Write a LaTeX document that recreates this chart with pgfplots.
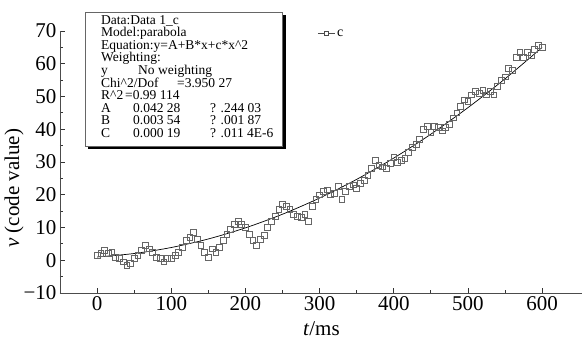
\documentclass[border=0pt]{standalone}
\usepackage{fontspec}
\setmainfont{Liberation Serif}
\usepackage{pgfplots}
\pgfplotsset{compat=1.18}
\begin{document}
\begin{tikzpicture}[x=1pt,y=1pt]
\useasboundingbox (0,0) rectangle (582,349);
\begin{axis}[
  at={(60pt,56pt)}, anchor=south west,
  scale only axis, width=522.9pt, height=262pt,
  xmin=-50, xmax=655, ymin=-10, ymax=70,
  axis x line=bottom, axis y line=left,
  axis line style={black!70, line width=0.8pt, -},
  xtick={0,100,...,600}, minor x tick num=1,
  ytick={-10,0,...,70}, minor y tick num=1,
  yticklabels={−10,0,10,20,30,40,50,60,70},
  tick align=inside,
  major tick length=5pt, minor tick length=3.5pt,
  tick style={black!80, line width=0.8pt},
  /pgf/number format/assume math mode=true,
  ticklabel style={font=\fontsize{21}{21}\selectfont},
  xlabel={\textit{t}/ms}, ylabel={\textit{v} (code value)},
  label style={font=\fontsize{21}{21}\selectfont},
  xlabel style={at={(axis description cs:0.5,-0.095)}, anchor=north},
  ylabel style={at={(axis description cs:-0.088,0.40)}, anchor=center},
  legend style={draw=none, fill=none, at={(0.492,0.99)}, anchor=west, font=\fontsize{14}{14}\selectfont, inner sep=0pt},
  legend cell align=left,
  clip=false,
]
\addplot[only marks, mark=square, mark size=2.9pt, mark options={black!60, line width=0.7pt},
  legend image code/.code={\draw[black!70, line width=0.6pt] (0pt,0pt) -- (17pt,0pt); \draw[black!70, fill=white, line width=0.5pt] (6.5pt,-2pt) rectangle (10.5pt,2pt);}]
coordinates {
(0,1.5)(5,2.0)(10,3.0)(15,2.0)(20,2.5)(25,0.8)(30,0.5)(35,-0.5)(40,-1.5)(45,-1.0)
(50,0.5)(55,1.5)(60,3.0)(65,4.5)(70,3.5)(75,2.5)(80,1.0)(85,0.5)(90,-0.5)(95,0.5)
(100,0.5)(105,1.5)(110,2.5)(115,4.0)(120,6.0)(125,7.0)(130,8.5)(135,6.5)(140,4.5)(145,2.5)
(150,1.0)(155,3.5)(160,2.5)(165,4.0)(170,6.0)(175,8.0)(180,9.5)(185,11.0)(190,12.0)(195,11.0)
(200,10.0)(205,8.0)(210,6.0)(215,4.5)(220,6.5)(225,7.5)(230,10.0)(235,12.0)(240,13.5)(245,15.5)
(250,17.0)(255,16.5)(260,15.5)(265,14.0)(270,13.5)(275,13.0)(280,14.0)(285,12.0)(290,16.5)(295,18.5)
(300,20.0)(305,21.0)(310,21.5)(315,20.0)(320,20.5)(325,22.5)(330,18.5)(335,21.0)(340,22.5)(345,23.0)
(350,22.0)(355,23.5)(360,24.5)(365,26.0)(370,28.0)(375,30.5)(380,29.0)(385,28.5)(390,28.0)(395,29.5)
(400,31.5)(405,30.0)(410,30.5)(415,31.0)(420,33.0)(425,34.5)(430,35.5)(435,37.0)(440,40.0)(445,41.0)
(450,39.0)(455,41.0)(460,40.5)(465,39.5)(470,40.5)(475,41.5)(480,43.5)(485,45.0)(490,47.0)(495,49.0)
(500,48.5)(505,50.5)(510,51.5)(515,51.0)(520,52.0)(525,50.5)(530,51.5)(535,50.5)(540,53.0)(545,55.0)
(550,56.0)(555,58.5)(560,58.0)(565,62.0)(570,63.5)(575,62.0)(580,63.5)(585,62.5)(590,64.5)(595,65.5)
(600,65.0)
};
\addlegendentry{c}
\addplot[black, line width=0.7pt, smooth, no marks, forget plot] coordinates {
(0,1.0)(50,2.06)(100,3.89)(150,6.5)(200,9.89)(250,14.06)(300,19.0)(350,24.7)(400,31.2)(450,38.5)(500,46.6)(550,55.4)(600,65.0)
};
\end{axis}
\fill[black] (88,200) rectangle (286,334);
\draw[black!60, fill=white, line width=0.6pt] (85,203) rectangle (282,337);
\node[anchor=north west, align=left, inner sep=0pt, font=\fontsize{13.5}{12.6}\selectfont] at (101,334) {%
Data:Data 1\_c\\
Model:parabola\\
Equation:y=A+B*x+c*x\textasciicircum 2\\
Weighting:\\
\makebox[37pt][l]{y}No weighting\\
\makebox[76pt][l]{Chi\textasciicircum 2/Dof}=3.950 27\\
\makebox[24pt][l]{R\textasciicircum 2}=0.99 114\\
\makebox[32pt][l]{A}\makebox[77pt][l]{0.042 28}? .244 03\\
\makebox[32pt][l]{B}\makebox[77pt][l]{0.003 54}? .001 87\\
\makebox[32pt][l]{C}\makebox[77pt][l]{0.000 19}? .011 4E-6};
\end{tikzpicture}
\end{document}
